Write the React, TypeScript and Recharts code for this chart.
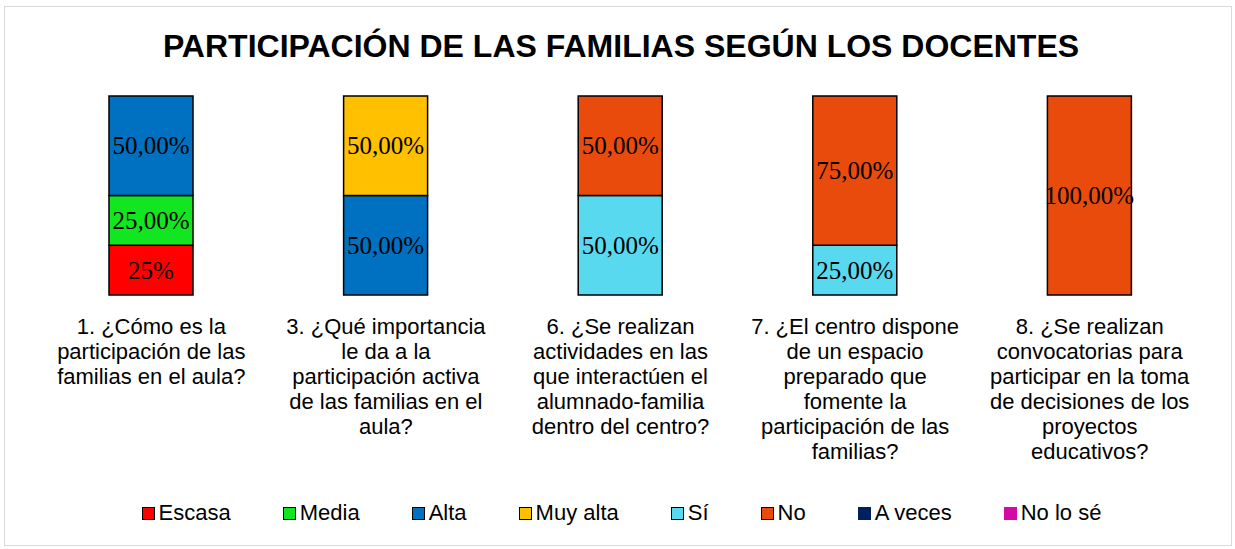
import React from 'react';
import { BarChart, Bar, XAxis, YAxis, Legend, LabelList } from 'recharts';

const title = 'PARTICIPACIÓN DE LAS FAMILIAS SEGÚN LOS DOCENTES';

const categories = ['P1', 'P3', 'P6', 'P7', 'P8'];
const tickLines: string[][] = [
  ['1. ¿Cómo es la', 'participación de las', 'familias en el aula?'],
  ['3. ¿Qué importancia', 'le da a la', 'participación activa', 'de las familias en el', 'aula?'],
  ['6. ¿Se realizan', 'actividades en las', 'que interactúen el', 'alumnado-familia', 'dentro del centro?'],
  ['7. ¿El centro dispone', 'de un espacio', 'preparado que', 'fomente la', 'participación de las', 'familias?'],
  ['8. ¿Se realizan', 'convocatorias para', 'participar en la toma', 'de decisiones de los', 'proyectos', 'educativos?'],
];

const escasa = [25, null, null, null, null];
const media = [25, null, null, null, null];
const alta = [50, 50, null, null, null];
const muyAlta = [null, 50, null, null, null];
const si = [null, null, 50, 25, null];
const no = [null, null, 50, 75, 100];
const aVeces = [null, null, null, null, null];
const noLoSe = [null, null, null, null, null];

const seriesNames = ['Escasa', 'Media', 'Alta', 'Muy alta', 'Sí', 'No', 'A veces', 'No lo sé'];
const seriesKeys = ['escasa', 'media', 'alta', 'muyAlta', 'si', 'no', 'aVeces', 'noLoSe'];
const seriesValues = [escasa, media, alta, muyAlta, si, no, aVeces, noLoSe];
const seriesColors = ['#FF0000', '#12E620', '#0070C0', '#FFC000', '#59D9F0', '#E94B0C', '#002060', '#D40AA8'];
const seriesOutlined = [true, true, true, true, true, true, false, false];

const data = categories.map((c, i) => {
  const row: Record<string, any> = { category: c, index: i };
  seriesKeys.forEach((k, s) => {
    row[k] = seriesValues[s][i];
  });
  return row;
});

const formatLabel = (key: string, v: number) =>
  key === 'escasa' ? `${v}%` : `${v.toFixed(2).replace('.', ',')}%`;

const makeLabel = (key: string) => (props: any) => {
  const { x, y, width, height, value } = props;
  if (value == null) return null;
  return (
    <text
      x={x + width / 2}
      y={y + height / 2}
      textAnchor="middle"
      dominantBaseline="central"
      fontFamily="'Liberation Serif', serif"
      fontSize={25}
      fill="#000"
    >
      {formatLabel(key, value)}
    </text>
  );
};

const CategoryTick = (props: any) => {
  const { x, y, payload } = props;
  const lines = tickLines[payload.index] || [];
  return (
    <text
      x={x}
      y={y}
      textAnchor="middle"
      fontFamily="'Liberation Sans', Arial, sans-serif"
      fontSize={22}
      fill="#000"
    >
      {lines.map((l, i) => (
        <tspan key={i} x={x} dy={i === 0 ? 31 : 25}>
          {l}
        </tspan>
      ))}
    </text>
  );
};

const LegendContent = () => (
  <div
    style={{
      display: 'flex',
      justifyContent: 'center',
      alignItems: 'center',
      gap: 52,
      fontFamily: "'Liberation Sans', Arial, sans-serif",
      fontSize: 22,
      color: '#000',
      height: 30,
      paddingLeft: 8,
    }}
  >
    {seriesNames.map((n, i) => (
      <div key={n} style={{ display: 'flex', alignItems: 'center' }}>
        <div
          style={{
            width: seriesOutlined[i] ? 11 : 13,
            height: seriesOutlined[i] ? 11 : 13,
            background: seriesColors[i],
            border: seriesOutlined[i] ? '1.5px solid #000' : 'none',
            marginRight: 4,
          }}
        />
        <span>{n}</span>
      </div>
    ))}
  </div>
);

export default function App() {
  return (
    <div style={{ position: 'absolute', left: 0, top: 0, width: 1235, height: 549, background: '#fff' }}>
      <div
        style={{
          position: 'absolute',
          left: 4,
          top: 6,
          width: 1226,
          height: 538,
          border: '1.5px solid #d9d9d9',
        }}
      />
      <div
        style={{
          position: 'absolute',
          left: 0,
          top: 27,
          width: 1242,
          textAlign: 'center',
          fontFamily: "'Liberation Sans', Arial, sans-serif",
          fontWeight: 'bold',
          fontSize: 32,
          lineHeight: '38px',
          color: '#000',
        }}
      >
        {title}
      </div>
      <BarChart
        width={1235}
        height={549}
        data={data}
        margin={{ top: 96, right: 28, left: 34, bottom: 54 }}
        barSize={84}
        style={{ position: 'absolute', left: 0, top: 0 }}
      >
        <XAxis
          dataKey="category"
          axisLine={false}
          tickLine={false}
          interval={0}
          height={170}
          tick={<CategoryTick />}
        />
        <YAxis hide domain={[0, 100]} />
        <Legend
          verticalAlign="bottom"
          content={<LegendContent />}
          wrapperStyle={{ position: 'absolute', left: 0, top: 498, width: 1235, height: 30 }}
        />
        {seriesKeys.map((k, s) => (
          <Bar
            key={k}
            dataKey={k}
            name={seriesNames[s]}
            stackId="a"
            fill={seriesColors[s]}
            stroke="#000"
            strokeWidth={1.5}
            isAnimationActive={false}
          >
            <LabelList dataKey={k} content={makeLabel(k)} />
          </Bar>
        ))}
      </BarChart>
    </div>
  );
}
